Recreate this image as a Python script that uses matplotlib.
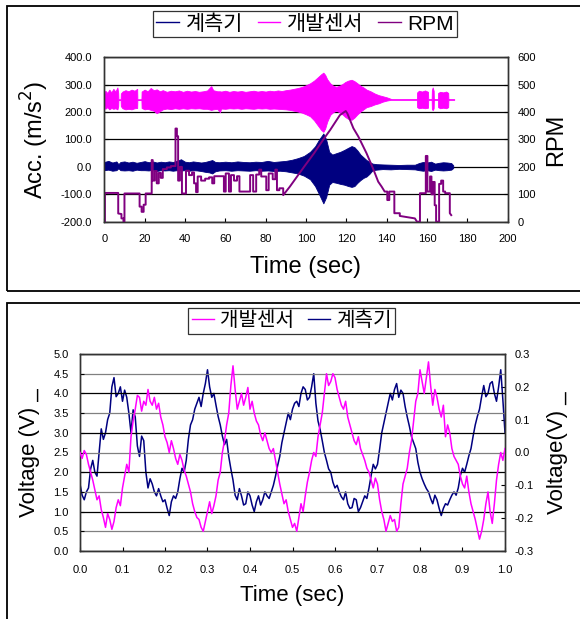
import matplotlib
matplotlib.use('Agg')
import matplotlib.pyplot as plt
from matplotlib.patches import Rectangle
from matplotlib.lines import Line2D

plt.rcParams['font.family'] = ['Liberation Sans', 'Noto Sans CJK KR']
plt.rcParams['axes.unicode_minus'] = False

PINK = '#ff00ff'
NAVY = '#000080'
PURPLE = '#800080'

# ---- top chart: acceleration bands (envelope of dense signal) and RPM ----
pink_t = [0, 0.5, 1.5, 2.5, 3.5, 4.5, 5.5, 6.5, 6.9, 7.0, 8.1, 8.2, 9, 10.5, 12, 13.5, 15, 16.3, 16.4, 18.4,
          18.5, 20, 21.5, 23, 24.5, 26, 27.5, 29, 31, 33, 35, 37, 39, 41, 43, 45, 47, 49, 51, 53, 54, 56,
          57.3, 58, 60, 62, 64, 66, 68, 70, 72, 74, 76, 78, 80, 82, 84, 86, 88, 90, 92, 94, 96, 98, 100,
          102, 104, 106, 107.5, 108.6, 109.5, 110.5, 112, 113.5, 115, 116.5, 118, 119.5, 121, 122.6, 124,
          125.5, 127, 128.5, 130, 132, 134, 136, 138, 140, 141.5, 142.5, 155.0, 155.1, 156, 157.5, 159,
          160.5, 160.6, 162.3, 162.4, 162.8, 163.3, 163.4, 165.4, 165.5, 166.5, 168, 169.5, 170.5, 170.6,
          173.5]
pink_hi = [265, 278, 270, 282, 272, 285, 275, 290, 270, 247, 247, 268, 275, 280, 276, 282, 278, 285, 247, 247,
           275, 282, 276, 288, 280, 283, 276, 280, 274, 278, 276, 279, 274, 278, 275, 277, 274, 276, 279, 295,
           280, 276, 276, 275, 278, 274, 277, 275, 277, 274, 276, 278, 275, 277, 275, 278, 276, 279, 277, 280,
           282, 285, 288, 292, 298, 305, 315, 328, 338, 344, 336, 320, 305, 296, 292, 296, 302, 310, 315, 318,
           313, 305, 296, 290, 282, 276, 268, 262, 258, 254, 250, 247, 247, 272, 278, 275, 279, 274, 247, 247,
           280, 290, 278, 247, 247, 270, 274, 272, 275, 270, 247, 247]
pink_lo = [225, 212, 218, 210, 215, 212, 214, 210, 222, 244, 244, 222, 214, 210, 212, 210, 214, 215, 244, 244,
           215, 210, 212, 208, 205, 196, 203, 210, 213, 211, 214, 212, 214, 212, 214, 213, 214, 212, 212, 208,
           210, 212, 200, 213, 212, 214, 213, 214, 212, 214, 213, 212, 214, 213, 214, 212, 213, 212, 211, 210,
           208, 205, 202, 198, 192, 185, 170, 150, 135, 128, 140, 165, 190, 200, 205, 200, 192, 182, 175, 172,
           180, 192, 202, 210, 218, 222, 228, 232, 238, 242, 244, 245, 245, 218, 214, 216, 214, 216, 245, 245,
           212, 207, 214, 245, 245, 218, 214, 216, 214, 218, 245, 245]

blue_t = [0, 2, 4, 6, 7, 8, 10, 12, 14, 16, 18, 20, 22, 24, 26, 28, 30, 32, 34, 36, 38, 40, 42, 44, 46, 48,
          50, 52, 53.5, 55, 57, 60, 63, 66, 69, 72, 75, 78, 81, 84, 87, 90, 93, 96, 99, 102, 104.5, 106.5,
          108.6, 110, 111.5, 113, 115, 117, 119, 121, 122.6, 124, 125.5, 127, 128.5, 130, 131.5, 133, 135,
          138, 142, 146, 150, 154, 156, 158, 160, 162, 164, 166, 168, 170, 172, 173]
blue_hi = [18, 22, 16, 20, 10, 18, 20, 16, 19, 15, 18, 21, 17, 20, 16, 19, 17, 20, 18, 22, 28, 19, 17, 20, 18,
           16, 18, 22, 25, 18, 17, 19, 17, 20, 18, 17, 19, 18, 22, 18, 20, 22, 26, 32, 40, 55, 75, 100, 122,
           100, 55, 45, 50, 55, 62, 70, 76, 72, 60, 45, 35, 25, 18, 12, 10, 9, 8, 7, 8, 8, 14, 18, 16, 19, 12,
           15, 17, 16, 14, 6]
blue_lo = [-12, -10, -14, -12, -5, -12, -13, -12, -14, -10, -12, -12, -13, -10, -15, -12, -13, -12, -14, -12,
           -13, -12, -14, -12, -13, -15, -18, -20, -24, -16, -13, -12, -14, -12, -13, -14, -12, -14, -13, -15,
           -14, -16, -20, -24, -32, -45, -70, -100, -133, -110, -65, -55, -58, -62, -65, -70, -73, -70, -58,
           -48, -40, -35, -25, -12, -10, -8, -9, -7, -8, -9, -12, -14, -12, -15, -10, -12, -13, -12, -10, -4]

rpm_t = [0, 0.3, 0.3, 6.9, 6.9, 8.5, 8.5, 9.5, 9.5, 10, 10, 17.5, 17.5, 18.5, 18.5, 19.5, 19.5, 20.5, 20.5,
         23.5, 23.5, 24, 24, 25, 25, 26, 26, 27, 27, 28, 28, 29, 29, 31, 31, 33, 33, 35.3, 35.3, 36, 36, 36.6,
         36.6, 37.5, 37.5, 38.5, 38.5, 40.5, 40.5, 42, 42, 43.5, 43.5, 44.5, 44.5, 45.5, 45.5, 46.3, 46.3, 48,
         48, 50, 50, 52, 52, 53.5, 53.5, 54.5, 54.5, 59.3, 59.3, 60.2, 60.2, 61.8, 61.8, 62.8, 62.8, 64.3,
         64.3, 65.8, 65.8, 67, 67, 72.3, 72.3, 73.8, 73.8, 75.3, 75.3, 76.8, 76.8, 77.8, 77.8, 80.3, 80.3,
         81.5, 81.5, 83.5, 83.5, 84.8, 84.8, 85.6, 85.6, 86.8, 86.8, 88.7, 88.7, 92, 99.3, 104, 108.6, 112,
         116.8, 119.7, 120.5, 123.5, 126, 128, 130, 132.5, 134, 135.8, 137.5, 139, 140.3, 140.3, 141.3, 141.3,
         143.8, 143.8, 146.5, 146.5, 154, 155, 156.5, 156.5, 159.4, 159.4, 160.2, 160.2, 161.5, 161.5, 162.2,
         162.2, 163, 163, 163.8, 163.8, 164.5, 164.5, 166, 166, 167, 167, 168, 168, 169, 169, 171.3, 171.3,
         172]
rpm_v = [0, 0, 105, 105, 30, 28, 12, 12, 0, 0, 103, 103, 55, 55, 36, 36, 62, 62, 103,
         103, 225, 225, 150, 150, 185, 185, 140, 140, 178, 178, 160, 160, 192, 192, 198, 198, 203, 203, 340,
         340, 312, 312, 150, 150, 200, 200, 103, 103, 186, 186, 170, 170, 180, 180, 140, 140, 108, 108, 165,
         165, 150, 150, 157, 157, 162, 162, 140, 140, 166, 166, 110, 110, 176, 176, 110, 110, 170, 170, 150,
         150, 166, 166, 110, 110, 170, 170, 110, 110, 172, 172, 190, 190, 165, 165, 115, 115, 176, 176, 155,
         155, 190, 190, 115, 115, 122, 122, 97, 128, 203, 250, 300, 335, 389, 404, 395, 341, 310, 280,
         250, 207, 180, 146, 128, 110, 110, 79, 79, 110, 110, 31, 31, 21, 12, 0, 0, 104, 104, 240, 240,
         110, 110, 165, 165, 100, 100, 145, 145, 60, 60, 0, 0, 138, 138, 150, 150, 110, 110, 104, 104, 31,
         24]

acc_ticks = [-200, -100, 0, 100, 200, 300, 400]
rpm_ticks = [0, 100, 200, 300, 400, 500, 600]
time_ticks = [0, 20, 40, 60, 80, 100, 120, 140, 160, 180, 200]

# ---- bottom chart: 1 second of voltage signals, sampled every 5 ms ----
volt_t = [i / 200 for i in range(201)]
sensor_v = [2.5, 2.35, 2.55, 2.45, 2.2, 2.0, 1.8, 1.55, 1.3, 1.4,
            1.05, 0.85, 0.6, 0.95, 0.8, 0.55, 0.75, 1.1, 1.3, 1.15,
            1.6, 1.9, 2.2, 2.0, 2.9, 3.3, 3.6, 3.95, 3.9, 3.55,
            3.8, 3.7, 4.1, 3.8, 3.7, 3.9, 3.6, 3.75, 3.4, 3.2,
            2.9, 2.75, 2.5, 2.8, 2.6, 2.35, 2.2, 2.45, 2.3, 2.05,
            1.9, 1.7, 1.5, 1.2, 1.0, 0.85, 0.8, 0.6, 0.5, 0.75,
            1.0, 1.25, 0.95, 1.15, 1.4, 1.8, 2.0, 2.5, 2.8, 3.2,
            3.5, 4.2, 4.7, 4.1, 3.6, 3.8, 4.0, 3.7, 3.9, 4.15,
            3.6, 3.8, 3.5, 3.3, 3.2, 2.95, 2.8, 3.0, 2.8, 2.6,
            2.5, 2.6, 2.3, 2.0, 1.7, 1.45, 1.2, 1.3, 1.0, 0.8,
            0.6, 0.7, 0.5, 0.85, 1.2, 1.0, 1.4, 1.75, 2.0, 2.3,
            2.5, 2.4, 2.9, 3.2, 3.5, 4.0, 4.5, 4.2, 4.3, 4.5,
            4.4, 4.1, 3.9, 3.7, 3.6, 3.8, 3.4, 3.2, 3.0, 2.8,
            2.7, 2.9, 2.6, 2.45, 2.3, 2.1, 2.0, 1.8, 1.6, 1.85,
            1.7, 1.3, 1.0, 0.8, 0.5, 0.7, 0.9, 0.75, 0.8, 0.5,
            0.6, 1.2, 1.7, 1.9, 2.1, 2.5, 2.8, 3.3, 3.8, 4.0,
            4.6, 4.3, 4.0, 4.4, 4.8, 4.2, 3.7, 4.1, 3.9, 3.6,
            3.4, 3.7, 2.9, 3.2, 3.0, 2.6, 2.4, 2.3, 2.2, 1.9,
            1.7, 1.6, 1.9, 1.5, 1.2, 1.0, 0.8, 0.55, 0.3, 0.5,
            0.8, 1.2, 1.5, 1.0, 0.7, 1.2, 1.8, 2.2, 2.5, 2.3,
            2.6]
meter_v = [-0.096, -0.13, -0.144, -0.12, -0.108, -0.05, -0.024, -0.06, -0.072, 0.0,
           0.072, 0.04, 0.06, 0.1, 0.12, 0.2, 0.228, 0.17, 0.18, 0.2,
           0.156, 0.19, 0.168, 0.12, 0.06, 0.13, 0.108, 0.02, -0.012, 0.05,
           0.036, -0.06, -0.108, -0.08, -0.096, -0.12, -0.132, -0.11, -0.132, -0.15,
           -0.144, -0.17, -0.192, -0.15, -0.132, -0.14, -0.12, -0.08, -0.048, -0.06,
           -0.024, 0.04, 0.084, 0.1, 0.132, 0.15, 0.168, 0.14, 0.18, 0.21,
           0.252, 0.2, 0.168, 0.18, 0.144, 0.11, 0.084, 0.05, 0.024, 0.04,
           -0.012, -0.05, -0.084, -0.13, -0.144, -0.11, -0.132, -0.16, -0.156, -0.12,
           -0.132, -0.16, -0.18, -0.15, -0.132, -0.16, -0.144, -0.12, -0.132, -0.14,
           -0.12, -0.1, -0.072, -0.04, -0.012, 0.03, 0.06, 0.09, 0.12, 0.1,
           0.132, 0.15, 0.156, 0.14, 0.18, 0.2, 0.192, 0.16, 0.168, 0.2,
           0.24, 0.15, 0.096, 0.07, 0.036, 0.0, -0.024, -0.05, -0.06, -0.09,
           -0.108, -0.1, -0.12, -0.135, -0.144, -0.12, -0.156, -0.17, -0.168, -0.14,
           -0.144, -0.18, -0.168, -0.15, -0.132, -0.14, -0.108, -0.07, -0.036, -0.05,
           -0.036, 0.01, 0.06, 0.09, 0.12, 0.15, 0.18, 0.16, 0.192, 0.21,
           0.168, 0.19, 0.18, 0.14, 0.108, 0.08, 0.048, 0.03, 0.012, -0.03,
           -0.06, -0.08, -0.096, -0.11, -0.12, -0.14, -0.156, -0.13, -0.144, -0.17,
           -0.192, -0.17, -0.156, -0.16, -0.144, -0.13, -0.12, -0.13, -0.108, -0.07,
           -0.048, -0.06, -0.036, -0.01, 0.012, 0.05, 0.084, 0.11, 0.132, 0.17,
           0.204, 0.17, 0.18, 0.21, 0.216, 0.18, 0.156, 0.2, 0.252, 0.16,
           0.06]

volt_ticks = [0.0, 0.5, 1.0, 1.5, 2.0, 2.5, 3.0, 3.5, 4.0, 4.5, 5.0]
volt_r_ticks = [-0.3, -0.2, -0.1, 0.0, 0.1, 0.2, 0.3]
sec_ticks = [0.0, 0.1, 0.2, 0.3, 0.4, 0.5, 0.6, 0.7, 0.8, 0.9, 1.0]

W, H = 580, 619
fig = plt.figure(figsize=(W / 100, H / 100), dpi=100)

# panel frames
fig.add_artist(Rectangle((6.7 / W, 1 - 291 / H), 1.2, (291 - 5.7) / H, transform=fig.transFigure,
                         fill=False, lw=1.3, ec='black'))
fig.add_artist(Rectangle((6.7 / W, -0.1), 1.2, 0.1 + 1 - 303 / H, transform=fig.transFigure,
                         fill=False, lw=1.3, ec='black'))


def style(ax, pad):
    ax.tick_params(direction='in', length=3, width=0.8, labelsize=8, pad=pad, colors='black')
    for s in ax.spines.values():
        s.set_linewidth(1.0)
        s.set_color('#333333')


# top panel
ax1 = fig.add_axes([104.3 / W, 1 - 221.7 / H, (507.7 - 104.3) / W, (221.7 - 57.3) / H])
ax1r = ax1.twinx()
ax1.fill_between(pink_t, pink_lo, pink_hi, color=PINK, lw=0.6, ec=PINK, zorder=2)
ax1.fill_between(blue_t, blue_lo, blue_hi, color=NAVY, lw=0.6, ec=NAVY, zorder=3)
ax1r.plot(rpm_t, rpm_v, color=PURPLE, lw=1.4)
ax1.set_xlim(0, 200)
ax1.set_ylim(-200, 400)
ax1r.set_ylim(0, 600)
ax1.set_xticks(time_ticks)
ax1.set_xticklabels([str(v) for v in time_ticks])
ax1.set_yticks(acc_ticks)
ax1.set_yticklabels(['%.1f' % v for v in acc_ticks])
ax1r.set_yticks(rpm_ticks)
ax1r.set_yticklabels([str(v) for v in rpm_ticks])
ax1.grid(axis='y', color='black', lw=0.9)
ax1.set_axisbelow(True)
style(ax1, 9)
style(ax1r, 7)
ax1.tick_params(axis='x', pad=9)

fig.text(35 / W, 1 - 140 / H, 'Acc. (m/s$^2$)', rotation=90, ha='center', va='center', fontsize=17)
fig.text(556 / W, 1 - 140 / H, 'RPM', rotation=90, ha='center', va='center', fontsize=17)
fig.text(305 / W, 1 - 267 / H, 'Time (sec)', ha='center', va='center', fontsize=17)

h1 = [Line2D([], [], color=NAVY, lw=1), Line2D([], [], color=PINK, lw=1), Line2D([], [], color=PURPLE, lw=1)]
leg1 = fig.legend(h1, ['계측기', '개발센서', 'RPM'], loc='center', bbox_to_anchor=(305 / W, 1 - 24 / H),
                  ncol=3, fontsize=15, frameon=True, fancybox=False, edgecolor='#333333', framealpha=1,
                  handlelength=1.1, handletextpad=0.3, columnspacing=0.7, borderpad=0.15, borderaxespad=0)
leg1.get_frame().set_linewidth(0.9)

# bottom panel
ax2 = fig.add_axes([80 / W, 1 - 551 / H, (505 - 80) / W, (551 - 354) / H])
ax2r = ax2.twinx()
ax2.plot(volt_t, sensor_v, color=PINK, lw=1.1, zorder=3)
ax2r.plot(volt_t, meter_v, color=NAVY, lw=1.1)
ax2.set_xlim(0, 1)
ax2.set_ylim(0, 5)
ax2r.set_ylim(-0.3, 0.3)
ax2.set_xticks(sec_ticks)
ax2.set_xticklabels(['%.1f' % v for v in sec_ticks])
ax2.set_yticks(volt_ticks)
ax2.set_yticklabels(['%.1f' % v for v in volt_ticks])
ax2r.set_yticks(volt_r_ticks)
ax2r.set_yticklabels(['%.1f' % v for v in volt_r_ticks])
ax2.grid(axis='y', color='black', lw=0.9)
for gl, v in zip(ax2.get_ygridlines(), volt_ticks):
    if v * 2 % 2 == 1:
        gl.set_color('#808080')
ax2.set_axisbelow(True)
style(ax2, 8)
style(ax2r, 7)
ax2.tick_params(axis='x', pad=10)
ax2r.set_zorder(ax2.get_zorder() - 1)
ax2.patch.set_visible(False)

fig.text(29.5 / W, 1 - 453 / H, 'Voltage (V) _', rotation=90, ha='center', va='center', fontsize=16)
fig.text(557 / W, 1 - 453 / H, 'Voltage(V) _', rotation=90, ha='center', va='center', fontsize=16)
fig.text(292 / W, 1 - 595 / H, 'Time (sec)', ha='center', va='center', fontsize=16)

h2 = [Line2D([], [], color=PINK, lw=1), Line2D([], [], color=NAVY, lw=1)]
leg2 = fig.legend(h2, ['개발센서', '계측기'], loc='center', bbox_to_anchor=(291.5 / W, 1 - 321 / H),
                  ncol=2, fontsize=14.5, frameon=True, fancybox=False, edgecolor='#333333', framealpha=1,
                  handlelength=1.1, handletextpad=0.3, columnspacing=0.7, borderpad=0.15, borderaxespad=0)
leg2.get_frame().set_linewidth(0.9)

fig.savefig('out.png', dpi=100)
